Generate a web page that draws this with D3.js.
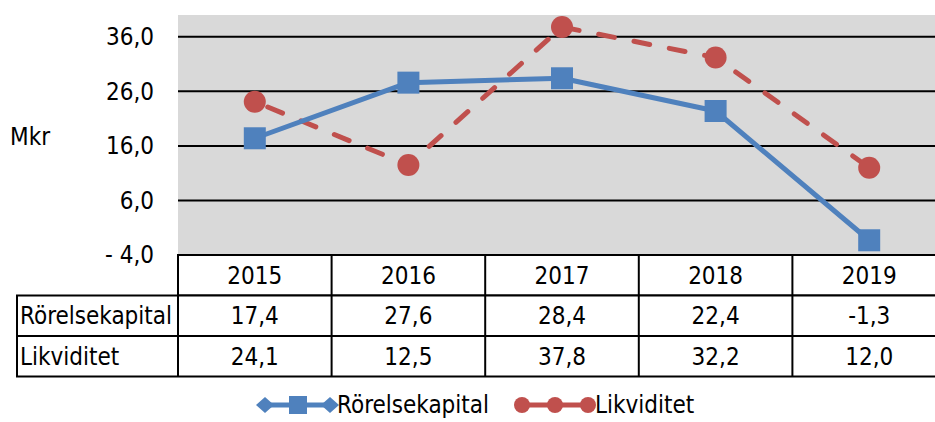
<!DOCTYPE html>
<html>
<head>
<meta charset="utf-8">
<script src="https://cdn.jsdelivr.net/npm/d3@7"></script>
<style>
  body { margin: 0; background: #fff; overflow: hidden; }
  svg { display: block; font-family: "DejaVu Sans Condensed", "DejaVu Sans", sans-serif; }
</style>
</head>
<body>
<script>
"use strict";
(function(){
    // data
    const years = ["2015", "2016", "2017", "2018", "2019"]
    const rorelsekapital = [17.4, 27.6, 28.4, 22.4, -1.3]
    const likviditet = [24.1, 12.5, 37.8, 32.2, 12.0]
    const yTicks = [-4, 6, 16, 26, 36]
    const seriesNames = ["Rörelsekapital", "Likviditet"]

    const blue = "#4F81BD"
    const red = "#C0504D"
    const fs = 24

    const m = { left: 178, right: 946, top: 15, bottom: 255, rowH: 40.5, tableLeft: 17 }

    const svg = d3.select("body").append("svg")
        .attr("width", 935)
        .attr("height", 422)

    let scaleX = d3.scaleBand()
        .domain(years)
        .range([m.left, m.right])
    let scaleY = d3.scaleLinear()
        .domain([-4, 40])
        .range([m.bottom, m.top])

    // plot background
    svg.append("rect")
        .attr("x", m.left).attr("y", m.top)
        .attr("width", m.right - m.left).attr("height", m.bottom - m.top)
        .attr("fill", "#D9D9D9")

    // gridlines
    svg.append("g").selectAll("line")
        .data(yTicks.slice(1))
        .enter().append("line")
        .attr("x1", m.left).attr("x2", m.right)
        .attr("y1", d => scaleY(d)).attr("y2", d => scaleY(d))
        .attr("stroke", "#000").attr("stroke-width", 2)

    // y axis labels
    const fmt = d => (d < 0 ? "- " + Math.abs(d).toFixed(1) : d.toFixed(1)).replace(".", ",")
    svg.append("g").selectAll("text")
        .data(yTicks)
        .enter().append("text")
        .attr("x", 154)
        .attr("y", d => scaleY(d))
        .attr("dy", "0.35em")
        .attr("text-anchor", "end")
        .attr("font-size", fs)
        .attr("fill", "#000")
        .text(fmt)

    svg.append("text")
        .attr("x", 10).attr("y", 137).attr("dy", "0.35em")
        .attr("font-size", fs)
        .text("Mkr")

    // lines
    const cx = d => scaleX(d) + scaleX.bandwidth() / 2
    const line = d3.line()
        .x((d, i) => cx(years[i]))
        .y(d => scaleY(d))

    svg.append("path")
        .datum(likviditet)
        .attr("d", line)
        .attr("fill", "none")
        .attr("stroke", red)
        .attr("stroke-width", 5)
        .attr("stroke-linecap", "round")
        .attr("stroke-dasharray", "16,20")
        .attr("stroke-dashoffset", -14)

    svg.append("path")
        .datum(rorelsekapital)
        .attr("d", line)
        .attr("fill", "none")
        .attr("stroke", blue)
        .attr("stroke-width", 5)
        .attr("stroke-linejoin", "round")

    svg.append("g").selectAll("rect")
        .data(rorelsekapital)
        .enter().append("rect")
        .attr("x", (d, i) => cx(years[i]) - 11)
        .attr("y", d => scaleY(d) - 11)
        .attr("width", 22).attr("height", 22)
        .attr("fill", blue)

    svg.append("g").selectAll("circle")
        .data(likviditet)
        .enter().append("circle")
        .attr("cx", (d, i) => cx(years[i]))
        .attr("cy", d => scaleY(d))
        .attr("r", 11)
        .attr("fill", red)

    // data table
    const table = svg.append("g")
    const rowY = i => m.bottom + i * m.rowH
    // header row
    table.append("rect")
        .attr("x", m.left).attr("y", rowY(0))
        .attr("width", m.right - m.left).attr("height", m.rowH)
        .attr("fill", "#fff").attr("stroke", "#000").attr("stroke-width", 2)
    // series rows
    table.append("rect")
        .attr("x", m.tableLeft).attr("y", rowY(1))
        .attr("width", m.right - m.tableLeft).attr("height", m.rowH * 2)
        .attr("fill", "#fff").attr("stroke", "#000").attr("stroke-width", 2)
    table.append("line")
        .attr("x1", m.tableLeft).attr("x2", m.right)
        .attr("y1", rowY(2)).attr("y2", rowY(2))
        .attr("stroke", "#000").attr("stroke-width", 2)
    table.selectAll(".vline")
        .data(years)
        .enter().append("line")
        .attr("class", "vline")
        .attr("x1", d => scaleX(d)).attr("x2", d => scaleX(d))
        .attr("y1", rowY(0)).attr("y2", rowY(3))
        .attr("stroke", "#000").attr("stroke-width", 2)

    table.selectAll(".year")
        .data(years)
        .enter().append("text")
        .attr("class", "year")
        .attr("x", d => cx(d))
        .attr("y", rowY(0) + m.rowH / 2)
        .attr("dy", "0.35em")
        .attr("text-anchor", "middle")
        .attr("font-size", fs)
        .text(d => d)

    const valFmt = d => d.toFixed(1).replace(".", ",")
    ;[rorelsekapital, likviditet].forEach((vals, r) => {
        table.append("text")
            .attr("x", m.tableLeft + 3)
            .attr("y", rowY(r + 1) + m.rowH / 2)
            .attr("dy", "0.35em")
            .attr("font-size", fs)
            .text(seriesNames[r])
        table.selectAll(".v" + r)
            .data(vals)
            .enter().append("text")
            .attr("x", (d, i) => cx(years[i]))
            .attr("y", rowY(r + 1) + m.rowH / 2)
            .attr("dy", "0.35em")
            .attr("text-anchor", "middle")
            .attr("font-size", fs)
            .text(valFmt)
    })

    // legend
    const ly = 405
    const leg = svg.append("g")
    leg.append("line")
        .attr("x1", 265).attr("x2", 330).attr("y1", ly).attr("y2", ly)
        .attr("stroke", blue).attr("stroke-width", 5)
    leg.selectAll(".dia")
        .data([265, 330])
        .enter().append("path")
        .attr("d", d => `M${d - 9},${ly}L${d},${ly - 8}L${d + 9},${ly}L${d},${ly + 8}Z`)
        .attr("fill", blue)
    leg.append("rect")
        .attr("x", 298 - 9).attr("y", ly - 9).attr("width", 18).attr("height", 18)
        .attr("fill", blue)
    leg.append("text")
        .attr("x", 337).attr("y", ly).attr("dy", "0.35em")
        .attr("font-size", fs)
        .text(seriesNames[0])

    leg.append("line")
        .attr("x1", 522).attr("x2", 588).attr("y1", ly).attr("y2", ly)
        .attr("stroke", red).attr("stroke-width", 5)
    leg.selectAll(".dot")
        .data([522, 555, 588])
        .enter().append("circle")
        .attr("cx", d => d).attr("cy", ly).attr("r", 8)
        .attr("fill", red)
    leg.append("text")
        .attr("x", 595).attr("y", ly).attr("dy", "0.35em")
        .attr("font-size", fs)
        .text(seriesNames[1])
})()
</script>
</body>
</html>
